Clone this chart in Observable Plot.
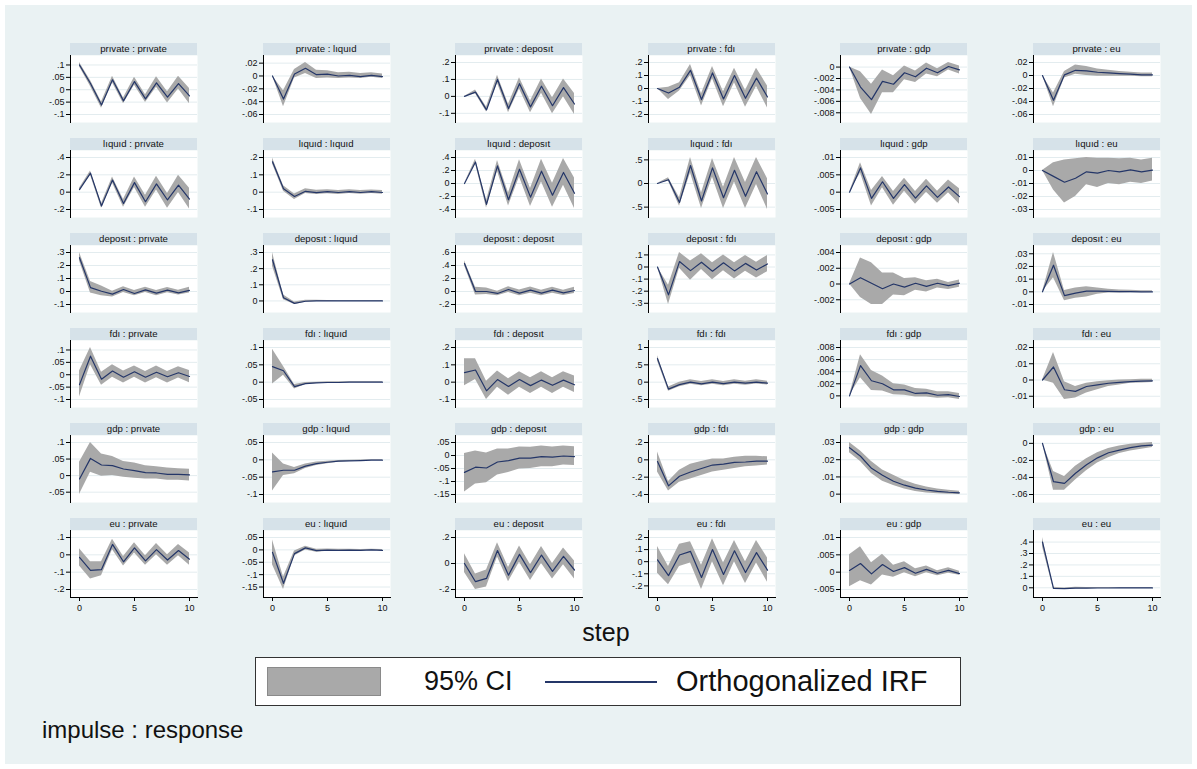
<!DOCTYPE html>
<html><head><meta charset="utf-8">
<script src="https://cdn.jsdelivr.net/npm/d3@7"></script>
<script src="https://cdn.jsdelivr.net/npm/@observablehq/plot@0.6"></script>
<style>
body{margin:0;background:#fff;}
#chart{position:relative;width:1197px;height:769px;background:#fff;font-family:"Liberation Sans",Arial,sans-serif;color:#111;overflow:hidden;}
#bg{position:absolute;left:5px;top:5px;right:5px;bottom:5px;background:#eaf2f3;}
.ttl{position:absolute;height:12px;background:#d6e2e9;font-size:9.6px;line-height:12px;text-align:center;color:#111;white-space:nowrap;}
.pan{position:absolute;}
.txt{position:absolute;white-space:nowrap;}
</style></head><body><div id="chart"><div id="bg"></div></div>
<script>
// impulse / response variables (row = impulse, column = response)
const variables = ["private", "liquid", "deposit", "fdi", "gdp", "eu"];
const varLabels = ["prıvate", "lıquıd", "deposıt", "fdı", "gdp", "eu"];
const steps = [0, 1, 2, 3, 4, 5, 6, 7, 8, 9, 10];
const xTicks = [0, 5, 10];

// Orthogonalized IRF, 36 panels in row-major order (impulse : response)
const irf = [
  [0.10,0.025,-0.062,0.04,-0.045,0.033,-0.037,0.028,-0.03,0.025,-0.025],
  [0,-0.036,0.003,0.012,0.002,0.003,0.0,0.001,-0.001,0.001,-0.001],
  [0,0.025,-0.08,0.1,-0.072,0.075,-0.062,0.06,-0.055,0.052,-0.045],
  [0,-0.035,0.01,0.14,-0.085,0.12,-0.08,0.1,-0.075,0.08,-0.065],
  [0,-0.0035,-0.0057,-0.0025,-0.003,-0.001,-0.0017,-0.0002,-0.001,0.0001,-0.0005],
  [0,-0.038,0.001,0.008,0.007,0.005,0.004,0.003,0.002,0.001,0.001],
  [0.03,0.22,-0.16,0.14,-0.13,0.11,-0.11,0.095,-0.09,0.08,-0.08],
  [0.175,0.02,-0.025,0.005,-0.003,0.003,-0.002,0.003,-0.002,0.003,-0.002],
  [0,0.33,-0.32,0.27,-0.25,0.22,-0.21,0.19,-0.18,0.17,-0.15],
  [0,0.08,-0.4,0.38,-0.37,0.33,-0.3,0.28,-0.27,0.25,-0.22],
  [0,0.007,-0.0018,0.003,-0.0018,0.0022,-0.0017,0.0018,-0.0015,0.0015,-0.0013],
  [0,-0.0045,-0.009,-0.006,-0.001,-0.002,0.0,-0.001,0.0005,-0.001,0.0003],
  [0.26,0.03,0.002,-0.02,0.015,-0.015,0.012,-0.013,0.01,-0.01,0.008],
  [0.255,0.02,-0.015,-0.002,0.001,0.0,0,0,0,0,0],
  [0.43,0.0,0.0,-0.03,0.03,-0.025,0.022,-0.025,0.02,-0.02,0.015],
  [0,-0.23,0.045,-0.03,0.04,-0.035,0.035,-0.032,0.03,-0.025,0.025],
  [0,0.0008,0.0001,-0.0006,0.0,-0.0004,0.0001,-0.0003,0.0001,-0.0002,0.0001],
  [0,0.021,-0.003,-0.001,0.0005,0.0005,0.0003,0.0002,0.0001,0,0],
  [-0.04,0.075,-0.018,0.015,-0.01,0.012,-0.01,0.01,-0.008,0.008,-0.007],
  [0.045,0.033,-0.013,-0.004,-0.002,-0.001,-0.001,0,0,0,0],
  [0.055,0.07,-0.05,0.015,-0.025,0.015,-0.02,0.012,-0.018,0.012,-0.015],
  [0.68,-0.2,-0.07,0.0,-0.05,0.0,-0.04,0.0,-0.03,0.0,-0.03],
  [0,0.005,0.0025,0.002,0.001,0.001,0.0004,0.0005,0.0001,0.0002,-0.0001],
  [0,0.008,-0.006,-0.007,-0.004,-0.003,-0.002,-0.0015,-0.001,-0.0007,-0.0005],
  [-0.01,0.052,0.032,0.03,0.02,0.015,0.009,0.008,0.004,0.004,0.002],
  [-0.035,-0.03,-0.03,-0.018,-0.011,-0.007,-0.004,-0.003,-0.002,-0.001,-0.001],
  [-0.065,-0.045,-0.048,-0.025,-0.02,-0.01,-0.01,-0.004,-0.006,-0.002,-0.004],
  [-0.02,-0.3,-0.19,-0.14,-0.1,-0.06,-0.05,-0.03,-0.025,-0.015,-0.015],
  [0.027,0.022,0.015,0.011,0.0075,0.0052,0.0035,0.0024,0.0016,0.0011,0.0008],
  [0,-0.045,-0.047,-0.035,-0.025,-0.017,-0.011,-0.008,-0.005,-0.003,-0.002],
  [-0.015,-0.09,-0.085,0.06,-0.04,0.04,-0.035,0.03,-0.03,0.025,-0.025],
  [-0.01,-0.135,-0.015,0.008,-0.003,-0.001,-0.002,-0.001,-0.002,0.0,-0.002],
  [0.0,-0.14,-0.115,0.1,-0.09,0.07,-0.07,0.065,-0.06,0.055,-0.05],
  [0.015,-0.115,0.055,0.085,-0.13,0.1,-0.105,0.09,-0.09,0.075,-0.07],
  [0.0005,0.0025,-0.0005,0.0022,0.0002,0.0013,-0.0003,0.0008,-0.0003,0.0005,-0.0004],
  [0.4,-0.005,-0.008,-0.003,-0.003,-0.002,-0.002,-0.001,-0.001,-0.001,-0.001]
];

// 95% CI lower bound
const ciLower = [
  [0.093,0.013,-0.075,0.028,-0.057,0.018,-0.052,0.01,-0.054,0.003,-0.057],
  [0,-0.048,-0.003,0.004,-0.004,-0.003,-0.004,-0.003,-0.004,-0.002,-0.004],
  [0,0.016,-0.092,0.078,-0.097,0.043,-0.097,0.018,-0.102,-0.002,-0.107],
  [0,-0.085,-0.02,0.1,-0.135,0.075,-0.14,0.045,-0.145,0.015,-0.15],
  [0,-0.0055,-0.0083,-0.0045,-0.0045,-0.0022,-0.0027,-0.0012,-0.0017,-0.0005,-0.0012],
  [0,-0.048,-0.004,0.002,0.0,-0.001,-0.001,-0.001,-0.001,-0.002,-0.002],
  [0.015,0.195,-0.185,0.105,-0.175,0.055,-0.175,0.025,-0.185,-0.005,-0.195],
  [0.163,0.006,-0.042,-0.008,-0.014,-0.009,-0.013,-0.008,-0.012,-0.007,-0.012],
  [0,0.3,-0.375,0.19,-0.345,0.1,-0.355,0.025,-0.365,-0.025,-0.385],
  [0,0.05,-0.48,0.22,-0.53,0.13,-0.53,0.03,-0.53,-0.02,-0.55],
  [0,0.0055,-0.004,0.0013,-0.0038,0.0003,-0.0035,0.0,-0.0032,-0.0002,-0.0035],
  [0,-0.015,-0.025,-0.02,-0.011,-0.013,-0.01,-0.011,-0.009,-0.01,-0.008],
  [0.235,-0.012,-0.032,-0.042,-0.007,-0.032,-0.007,-0.032,-0.01,-0.027,-0.012],
  [0.215,0.008,-0.022,-0.008,-0.004,-0.003,-0.002,-0.002,-0.002,-0.002,-0.002],
  [0.395,-0.055,-0.045,-0.065,-0.015,-0.065,-0.025,-0.065,-0.025,-0.06,-0.03],
  [0,-0.31,-0.01,-0.11,-0.02,-0.105,-0.03,-0.1,-0.035,-0.09,-0.04],
  [0,-0.0017,-0.0026,-0.0026,-0.0014,-0.0015,-0.0008,-0.001,-0.0005,-0.0007,-0.0004],
  [0,0.011,-0.007,-0.005,-0.004,-0.002,-0.001,-0.001,-0.0008,-0.0007,-0.0006],
  [-0.09,0.04,-0.042,-0.01,-0.033,-0.01,-0.033,-0.012,-0.033,-0.013,-0.032],
  [-0.005,0.02,-0.02,-0.007,-0.004,-0.003,-0.002,-0.001,-0.001,-0.001,-0.001],
  [-0.02,0.015,-0.1,-0.03,-0.075,-0.03,-0.065,-0.03,-0.065,-0.03,-0.06],
  [0.61,-0.26,-0.13,-0.06,-0.1,-0.06,-0.1,-0.06,-0.09,-0.05,-0.08],
  [0,0.003,0.0009,0.0008,0.0002,0.0001,-0.0002,-0.0002,-0.0004,-0.0003,-0.0006],
  [0,-0.002,-0.012,-0.011,-0.008,-0.006,-0.004,-0.003,-0.002,-0.0018,-0.0015],
  [-0.057,0.01,-0.002,0.0,-0.005,-0.008,-0.01,-0.01,-0.014,-0.014,-0.016],
  [-0.09,-0.045,-0.04,-0.025,-0.016,-0.011,-0.007,-0.005,-0.003,-0.002,-0.002],
  [-0.14,-0.11,-0.105,-0.075,-0.065,-0.052,-0.05,-0.043,-0.043,-0.037,-0.038],
  [-0.14,-0.36,-0.26,-0.22,-0.18,-0.14,-0.12,-0.1,-0.08,-0.07,-0.06],
  [0.024,0.019,0.012,0.0075,0.005,0.003,0.0015,0.0007,0.0002,-0.0001,-0.0002],
  [0,-0.055,-0.055,-0.043,-0.032,-0.023,-0.017,-0.012,-0.009,-0.007,-0.005],
  [-0.065,-0.14,-0.12,0.03,-0.065,0.01,-0.06,0.0,-0.06,-0.005,-0.06],
  [-0.06,-0.16,-0.025,0.0,-0.01,-0.006,-0.006,-0.005,-0.005,-0.003,-0.005],
  [-0.07,-0.2,-0.18,0.05,-0.14,0.01,-0.13,0.0,-0.12,-0.01,-0.12],
  [-0.095,-0.19,-0.04,-0.01,-0.23,0.0,-0.2,0.0,-0.18,-0.01,-0.17],
  [-0.0042,-0.0025,-0.0037,-0.0008,-0.0015,-0.0002,-0.0013,-0.0002,-0.001,-0.0003,-0.0009],
  [0.36,-0.014,-0.015,-0.009,-0.008,-0.007,-0.006,-0.005,-0.005,-0.005,-0.005]
];

// 95% CI upper bound
const ciUpper = [
  [0.11,0.037,-0.05,0.054,-0.033,0.05,-0.02,0.052,-0.008,0.054,0.005],
  [0,-0.023,0.01,0.021,0.009,0.008,0.005,0.006,0.004,0.005,0.003],
  [0,0.037,-0.063,0.124,-0.046,0.11,-0.028,0.102,-0.008,0.102,0.017],
  [0,0.01,0.045,0.185,-0.04,0.17,-0.025,0.155,-0.015,0.155,0.02],
  [0,-0.0008,-0.003,-0.0005,-0.0015,0.0002,-0.0007,0.0007,-0.0003,0.0008,0.0002],
  [0,-0.027,0.006,0.016,0.014,0.01,0.008,0.006,0.005,0.004,0.004],
  [0.045,0.245,-0.135,0.175,-0.085,0.175,-0.035,0.185,-0.015,0.195,0.045],
  [0.197,0.037,-0.01,0.019,0.011,0.014,0.009,0.014,0.009,0.013,0.009],
  [0,0.375,-0.265,0.355,-0.145,0.365,-0.075,0.375,0.005,0.385,0.085],
  [0,0.12,-0.3,0.55,-0.2,0.53,-0.08,0.55,0.02,0.55,0.1],
  [0,0.0085,0.0005,0.0045,0.0002,0.004,0.0002,0.0037,0.0003,0.0035,0.001],
  [0,0.006,0.008,0.009,0.01,0.0095,0.0095,0.009,0.0095,0.008,0.0095],
  [0.3,0.077,0.042,0.002,0.037,0.007,0.032,0.007,0.03,0.01,0.032],
  [0.3,0.037,-0.007,0.005,0.005,0.003,0.002,0.002,0.002,0.002,0.002],
  [0.475,0.065,0.055,0.005,0.075,0.025,0.07,0.02,0.065,0.02,0.065],
  [0,-0.15,0.12,0.05,0.11,0.035,0.1,0.035,0.095,0.04,0.095],
  [0,0.0033,0.0027,0.0014,0.0014,0.0007,0.0008,0.0004,0.0006,0.0002,0.0005],
  [0,0.031,0.001,0.003,0.004,0.003,0.002,0.0015,0.0012,0.0009,0.0008],
  [0.015,0.11,0.01,0.04,0.015,0.035,0.013,0.035,0.013,0.032,0.017],
  [0.095,0.045,-0.007,-0.001,0.0,0.001,0.001,0.001,0.001,0.001,0.001],
  [0.135,0.135,0.005,0.065,0.02,0.06,0.025,0.06,0.025,0.06,0.035],
  [0.76,-0.14,0.0,0.07,0.02,0.07,0.02,0.07,0.03,0.07,0.03],
  [0,0.0068,0.0042,0.0033,0.002,0.0018,0.0012,0.0011,0.0007,0.0007,0.0004],
  [0,0.017,-0.001,-0.004,-0.002,-0.001,-0.0005,0.0,0.0002,0.0004,0.0005],
  [0.04,0.1,0.065,0.058,0.043,0.038,0.03,0.027,0.023,0.021,0.019],
  [0.02,-0.012,-0.022,-0.012,-0.006,-0.004,-0.002,-0.001,-0.0005,0.0,0.0],
  [0.008,0.017,0.01,0.025,0.025,0.033,0.032,0.037,0.033,0.037,0.034],
  [0.09,-0.25,-0.12,-0.05,-0.02,0.01,0.01,0.03,0.04,0.04,0.035],
  [0.03,0.025,0.019,0.014,0.011,0.008,0.0058,0.0042,0.003,0.0022,0.0017],
  [0,-0.033,-0.039,-0.027,-0.018,-0.011,-0.006,-0.003,-0.001,0.0,0.001],
  [0.035,-0.04,-0.04,0.09,-0.01,0.07,-0.005,0.065,0.0,0.06,0.01],
  [0.04,-0.11,-0.005,0.015,0.003,0.004,0.003,0.003,0.002,0.003,0.002],
  [0.075,-0.08,-0.05,0.16,-0.03,0.135,-0.01,0.13,0.0,0.12,0.02],
  [0.125,-0.04,0.145,0.165,-0.03,0.19,-0.01,0.175,0.0,0.175,0.03],
  [0.005,0.0073,0.0027,0.0052,0.002,0.003,0.001,0.0018,0.0004,0.0013,0.0003],
  [0.44,0.004,-0.001,0.004,0.003,0.003,0.003,0.003,0.003,0.003,0.003]
];

// y-axis tick values per panel
const yTicks = [
  [-0.1,-0.05,0,0.05,0.1], [-0.06,-0.04,-0.02,0,0.02], [-0.1,0,0.1,0.2],
  [-0.2,-0.1,0,0.1,0.2], [-0.008,-0.006,-0.004,-0.002,0], [-0.06,-0.04,-0.02,0,0.02],
  [-0.2,0,0.2,0.4], [-0.1,0,0.1,0.2], [-0.4,-0.2,0,0.2,0.4],
  [-0.5,0,0.5], [-0.005,0,0.005,0.01], [-0.03,-0.02,-0.01,0,0.01],
  [-0.1,0,0.1,0.2,0.3], [0,0.1,0.2,0.3], [-0.2,0,0.2,0.4,0.6],
  [-0.3,-0.2,-0.1,0,0.1], [-0.002,0,0.002,0.004], [-0.01,0,0.01,0.02,0.03],
  [-0.1,-0.05,0,0.05,0.1], [-0.05,0,0.05,0.1], [-0.1,0,0.1,0.2],
  [-0.5,0,0.5,1], [0,0.002,0.004,0.006,0.008], [-0.01,0,0.01,0.02],
  [-0.05,0,0.05,0.1], [-0.1,-0.05,0,0.05], [-0.15,-0.1,-0.05,0,0.05],
  [-0.4,-0.2,0,0.2], [0,0.01,0.02,0.03], [-0.06,-0.04,-0.02,0],
  [-0.2,-0.1,0,0.1], [-0.15,-0.1,-0.05,0,0.05], [-0.2,0,0.2],
  [-0.2,-0.1,0,0.1,0.2], [-0.005,0,0.005,0.01], [0,0.1,0.2,0.3,0.4]
];

const FONT = '"Liberation Sans", Arial, sans-serif';
const CI_FILL = "#a9a9a9";
const LINE = "#243668";
const chart = document.getElementById("chart");

function stataFmt(v) {
  let s = String(+v.toPrecision(6));
  return s.replace(/^0\./, ".").replace(/^-0\./, "-.");
}

const W = 127, H = 67;
for (let r = 0; r < 6; r++) {
  for (let c = 0; c < 6; c++) {
    const i = r * 6 + c;
    const X = 70 + c * 192.6, Y = 43 + r * 95;
    const t = document.createElement("div");
    t.className = "ttl";
    t.style.left = X + "px"; t.style.top = Y + "px"; t.style.width = W + "px";
    t.textContent = varLabels[r] + " : " + varLabels[c];
    chart.appendChild(t);

    const data = steps.map((s, k) => ({step: s, irf: irf[i][k], lo: ciLower[i][k], hi: ciUpper[i][k]}));
    const ticks = yTicks[i];
    const ymin = Math.min(d3.min(ticks), d3.min(ciLower[i]), d3.min(irf[i]));
    const ymax = Math.max(d3.max(ticks), d3.max(ciUpper[i]), d3.max(irf[i]));
    const bottom = r === 5;
    const mt = 6, ml = 42, mr = 4, mb = bottom ? 24 : 3;
    const svg = Plot.plot({
      width: ml + W + mr, height: mt + H + mb,
      marginTop: mt, marginLeft: ml, marginRight: mr, marginBottom: mb,
      style: {background: "transparent", fontFamily: FONT, fontSize: "9px", color: "#111", overflow: "visible"},
      x: {domain: [0, 10], insetLeft: 9, insetRight: 8, axis: null},
      y: {domain: [ymin, ymax], insetTop: 7, insetBottom: 8, axis: null},
      marks: [
        Plot.frame({fill: "white", stroke: null}),
        Plot.gridY(ticks, {stroke: "#e3ecef", strokeOpacity: 1, strokeWidth: 1}),
        Plot.areaY(data, {x: "step", y1: "lo", y2: "hi", fill: CI_FILL, fillOpacity: 1}),
        Plot.lineY(data, {x: "step", y: "irf", stroke: LINE, strokeWidth: 1.2}),
        Plot.frame({anchor: "left", stroke: "#000", strokeWidth: 1}),
        Plot.axisY(ticks, {tickFormat: stataFmt, tickSize: 4, tickPadding: 2, stroke: "#000", label: null}),
        bottom ? Plot.frame({anchor: "bottom", stroke: "#000", strokeWidth: 1}) : null,
        bottom ? Plot.axisX(xTicks, {tickSize: 4, tickPadding: 3, stroke: "#000", label: null}) : null
      ]
    });
    svg.classList.add("pan");
    svg.style.left = (X - ml) + "px";
    svg.style.top = (Y + 12 - mt) + "px";
    chart.appendChild(svg);
  }
}

function addText(txt, left, top, size, extra) {
  const d = document.createElement("div");
  d.className = "txt";
  d.style.left = left + "px"; d.style.top = top + "px";
  d.style.fontSize = size + "px"; d.style.lineHeight = size + "px";
  if (extra) Object.assign(d.style, extra);
  d.textContent = txt;
  chart.appendChild(d);
  return d;
}

// x axis title
addText("step", 556, 620, 25, {width: "100px", textAlign: "center"});

// legend
const lg = document.createElement("div");
Object.assign(lg.style, {position: "absolute", left: "255px", top: "657px", width: "704px", height: "47px", background: "#fff", border: "1px solid #333"});
chart.appendChild(lg);
const sw = document.createElement("div");
Object.assign(sw.style, {position: "absolute", left: "267px", top: "667px", width: "112px", height: "27px", background: CI_FILL, border: "1px solid #8a8a8a"});
chart.appendChild(sw);
addText("95% CI", 424, 668, 27);
const ln = document.createElement("div");
Object.assign(ln.style, {position: "absolute", left: "545px", top: "681px", width: "112px", height: "1.5px", background: LINE});
chart.appendChild(ln);
addText("Orthogonalized IRF", 676, 667, 29);

// note
addText("impulse : response", 42, 718, 24);
</script>
</body></html>
